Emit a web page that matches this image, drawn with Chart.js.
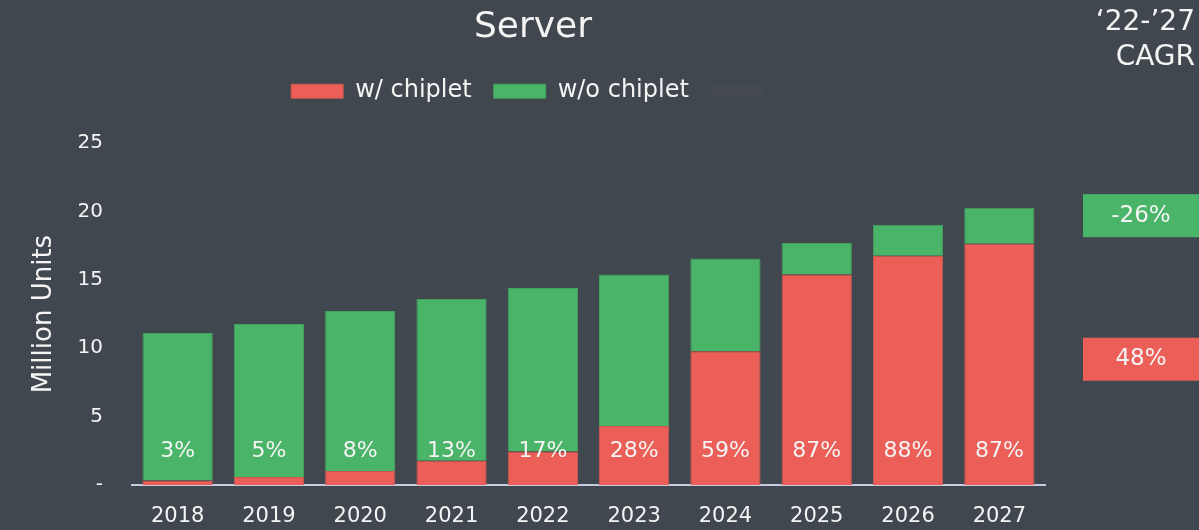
<!DOCTYPE html>
<html>
<head>
<meta charset="utf-8">
<title>Server</title>
<script src="https://cdn.jsdelivr.net/npm/chart.js@4.4.1/dist/chart.umd.min.js"></script>
<style>
  html, body { margin: 0; padding: 0; background: #41474e; }
  #wrap { width: 1199px; height: 530px; position: relative; }
</style>
</head>
<body>
<div id="wrap"><canvas id="chart"></canvas></div>
<script>
// Server units, split by chiplet adoption (million units)
const years = ['2018', '2019', '2020', '2021', '2022', '2023', '2024', '2025', '2026', '2027'];
const withChiplet = [0.33, 0.59, 1.02, 1.77, 2.45, 4.31, 9.78, 15.4, 16.77, 17.64];
const withoutChiplet = [10.79, 11.18, 11.70, 11.83, 11.95, 11.09, 6.79, 2.30, 2.27, 2.64];
const shareLabels = ['3%', '5%', '8%', '13%', '17%', '28%', '59%', '87%', '88%', '87%'];
const yTicks = [0, 5, 10, 15, 20, 25];

// '22-'27 CAGR boxes on the right
const cagrHeader = ['\u201822-\u201927', 'CAGR'];
const cagrGreen = '-26%';
const cagrRed = '48%';

const RED = '#eb5f58';
const GREEN = '#4ab569';
const BG = '#41474e';
const TEXT = '#f4f4f4';
const FONT = "'DejaVu Sans', sans-serif";

Chart.defaults.font.family = FONT;
Chart.defaults.color = TEXT;

// percentages inside the bars + CAGR column
const extras = {
  id: 'extras',
  afterDatasetsDraw(chart) {
    const ctx = chart.ctx;
    const x = chart.scales.x;
    const y = chart.scales.y;
    ctx.save();
    ctx.fillStyle = TEXT;
    ctx.font = '22px ' + FONT;
    ctx.textAlign = 'center';
    ctx.textBaseline = 'middle';
    shareLabels.forEach((t, i) => {
      ctx.fillText(t, x.getPixelForValue(i), y.getPixelForValue(2.5));
    });

    // header
    ctx.font = '28px ' + FONT;
    ctx.textAlign = 'right';
    ctx.fillText(cagrHeader[0], 1195, 23);
    ctx.fillText(cagrHeader[1], 1195, 58);

    // boxes
    const boxLeft = 1083;
    const boxW = chart.width - boxLeft;
    const boxH = 43;
    const gY = y.getPixelForValue(19.7);
    const rY = y.getPixelForValue(9.2);
    ctx.fillStyle = GREEN;
    ctx.fillRect(boxLeft, gY - boxH / 2, boxW, boxH);
    ctx.fillStyle = RED;
    ctx.fillRect(boxLeft, rY - boxH / 2, boxW, boxH);
    ctx.fillStyle = TEXT;
    ctx.font = '23px ' + FONT;
    ctx.textAlign = 'center';
    ctx.fillText(cagrGreen, boxLeft + boxW / 2, gY);
    ctx.fillText(cagrRed, boxLeft + boxW / 2, rY);
    ctx.restore();
  }
};

const ctx = document.getElementById('chart').getContext('2d');
new Chart(ctx, {
  type: 'bar',
  data: {
    labels: years,
    datasets: [
      {
        label: 'w/ chiplet',
        data: withChiplet,
        backgroundColor: RED,
        borderColor: '#c9574f',
        borderWidth: 1
      },
      {
        label: 'w/o chiplet',
        data: withoutChiplet,
        backgroundColor: GREEN,
        borderColor: '#44a05e',
        borderWidth: 1
      },
      {
        label: '',
        data: years.map(() => 0),
        backgroundColor: '#43494f',
        borderWidth: 0
      }
    ]
  },
  options: {
    responsive: true,
    maintainAspectRatio: false,
    animation: false,
    layout: { padding: { left: 0, right: 133, top: 0, bottom: 0 } },
    datasets: {
      bar: { barPercentage: 0.77, categoryPercentage: 1 }
    },
    plugins: {
      title: {
        display: true,
        text: 'Server',
        color: TEXT,
        font: { size: 36, weight: 'normal' },
        padding: { top: 6, bottom: 8 }
      },
      // empty spacer between legend and plot
      subtitle: {
        display: true,
        text: '',
        weight: 900,
        font: { size: 1, lineHeight: 1 },
        padding: { top: 0, bottom: 29 }
      },
      legend: {
        position: 'top',
        labels: {
          boxWidth: 52,
          boxHeight: 14,
          color: TEXT,
          font: { size: 24 },
          padding: 22
        }
      },
      tooltip: { enabled: false }
    },
    scales: {
      x: {
        stacked: true,
        grid: { display: false, drawTicks: false },
        border: { display: true, color: '#c8cce0', width: 2 },
        afterFit(s) { s.height = 45; },
        ticks: { color: TEXT, font: { size: 21 }, padding: 19 }
      },
      y: {
        stacked: true,
        min: 0,
        max: 25,
        grid: { display: false, drawTicks: false },
        border: { display: false },
        afterBuildTicks(s) { s.ticks = yTicks.map(v => ({ value: v })); },
        afterFit(s) { s.width = 132; },
        ticks: {
          color: TEXT,
          font: { size: 20 },
          padding: 29,
          callback: v => (v === 0 ? '-' : v)
        },
        title: {
          display: true,
          text: 'Million Units',
          color: TEXT,
          font: { size: 26 },
          padding: { top: 29, bottom: 0 }
        }
      },
      r: {
        position: 'right',
        grid: { display: false },
        border: { display: false },
        ticks: { display: false },
        afterFit(s) { s.width = 21; }
      }
    }
  },
  plugins: [extras]
});
</script>
</body>
</html>
